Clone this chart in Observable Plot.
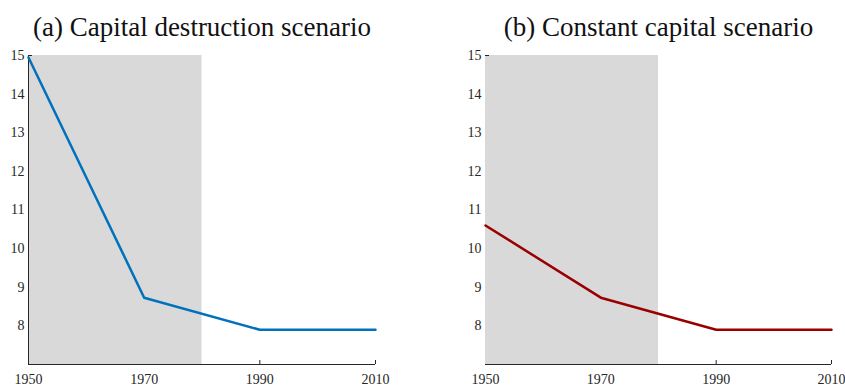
<!DOCTYPE html>
<html>
<head>
<meta charset="utf-8">
<script src="https://cdn.jsdelivr.net/npm/d3@7"></script>
<script src="https://cdn.jsdelivr.net/npm/@observablehq/plot@0.6"></script>
<style>
  html, body { margin: 0; padding: 0; background: #fff; }
  #wrap { position: relative; width: 845px; height: 387px; overflow: hidden; }
  .panel { position: absolute; top: 0; }
</style>
</head>
<body>
<div id="wrap"></div>
<script>
// ---- data ----
const years = [1950, 1970, 1990, 2010];
const destructionValues = [14.95, 8.73, 7.9, 7.9];
const constantValues = [10.6, 8.73, 7.9, 7.9];
const shadeSpans = [{start: 1950, end: 1980}];
const xTicks = [1950, 1970, 1990, 2010];
const yTicks = [8, 9, 10, 11, 12, 13, 14, 15];
const xDomain = [1950, 2010];
const yDomain = [7, 15];
const titles = ["(a) Capital destruction scenario", "(b) Constant capital scenario"];

const H = 387, MT = 55, MB = 23;
const axisColor = "#262626";
const serif = "Liberation Serif";

function panel({values, color, title, left, width, marginLeft, marginRight, axisLine}) {
  const data = years.map((y, i) => ({year: y, value: values[i]}));
  const plotW = width - marginLeft - marginRight;
  const plotH = H - MT - MB;
  const shadeEnd = d3.max(shadeSpans, d => d.end);
  const chart = Plot.plot({
    width, height: H,
    marginTop: MT, marginBottom: MB, marginLeft, marginRight,
    x: {domain: xDomain, label: null},
    y: {domain: yDomain, label: null},
    style: {fontFamily: serif, fontSize: "14px", color: axisColor, background: "transparent"},
    marks: [
      Plot.rect(shadeSpans, {x1: "start", x2: "end", y1: () => yDomain[0], y2: () => yDomain[1], fill: "#d9d9d9"}),
      Plot.axisY(yTicks, {tickSize: 0, tickPadding: 4, fontSize: 14, fill: axisColor}),
      Plot.axisX(xTicks, {tickSize: 0, tickPadding: 10, fontSize: 14, fill: axisColor, tickFormat: d => String(d)}),
      Plot.ruleY([yDomain[0]], {stroke: axisColor, strokeWidth: 1}),
      axisLine ? Plot.ruleX([xDomain[0]], {stroke: axisColor, strokeWidth: 1}) : null,
      Plot.ruleX(xTicks.filter(v => v > shadeEnd), {x: d => d, y1: yDomain[1], y2: yDomain[0], insetTop: plotH - 4, stroke: axisColor}),
      Plot.ruleY(yTicks.filter(v => v >= yDomain[1]), {y: d => d, x1: xDomain[0], x2: xDomain[1], insetRight: plotW - 4, stroke: axisColor}),
      Plot.line(data, {x: "year", y: "value", stroke: color, strokeWidth: 2.5}),
      Plot.text([title], {text: d => d, frameAnchor: "top", lineAnchor: "bottom", dy: -20, fontSize: 27, fill: "#111", fontFamily: serif})
    ]
  });
  const div = document.createElement("div");
  div.className = "panel";
  div.style.left = left + "px";
  div.appendChild(chart);
  document.getElementById("wrap").appendChild(div);
}

panel({values: destructionValues, color: "#0072BD", title: titles[0], left: 0, width: 422, marginLeft: 28, marginRight: 47, axisLine: true});
panel({values: constantValues, color: "#990000", title: titles[1], left: 422, width: 423, marginLeft: 63, marginRight: 14, axisLine: false});
</script>
</body>
</html>
